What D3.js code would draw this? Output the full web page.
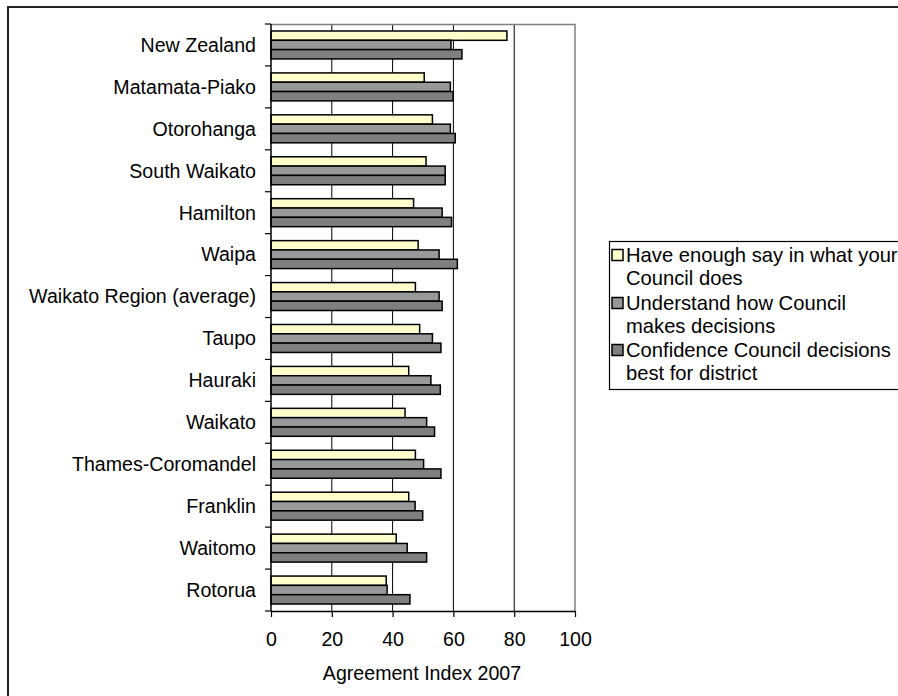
<!DOCTYPE html>
<html><head><meta charset="utf-8">
<script src="https://cdn.jsdelivr.net/npm/d3@7"></script>
<style>
html,body{margin:0;padding:0;background:#fff;overflow:hidden}
text{font-family:"Liberation Sans",Arial,sans-serif;fill:#000}
</style></head>
<body>
<svg id="c" width="898" height="696"></svg>
<script>
const categories = ["New Zealand","Matamata-Piako","Otorohanga","South Waikato","Hamilton","Waipa","Waikato Region (average)","Taupo","Hauraki","Waikato","Thames-Coromandel","Franklin","Waitomo","Rotorua"];
const haveSay    = [77.6, 50.4, 53.1, 51.0, 46.9, 48.4, 47.5, 48.9, 45.3, 44.1, 47.5, 45.3, 41.2, 37.9];
const understand = [59.2, 59.0, 59.0, 57.3, 56.3, 55.3, 55.3, 53.1, 52.6, 51.2, 50.2, 47.4, 44.8, 38.2];
const confidence = [62.8, 59.9, 60.6, 57.3, 59.4, 61.3, 56.3, 55.9, 55.7, 53.8, 55.9, 49.9, 51.2, 45.7];
const seriesNames = [["Have enough say in what your","Council does"],["Understand how Council","makes decisions"],["Confidence Council decisions","best for district"]];
const seriesColors = ["#ffffcc","#999999","#7f7f7f"];
const xTicks = [0,20,40,60,80,100];
const xTitle = "Agreement Index 2007";

const series = [haveSay, understand, confidence];
const svg = d3.select("#c");
const FS = 19.6;

// outer frame
svg.append("rect").attr("x",8).attr("y",7).attr("width",900).attr("height",700)
  .attr("fill","none").attr("stroke","#222").attr("stroke-width",2);

const L = 271, R = 575, T = 24, B = 611;
const x = d3.scaleLinear().domain([0,100]).range([L,R]);
const y = d3.scaleBand().domain(categories).range([T,B]).paddingInner(1/3).paddingOuter(1/6);
const ys = d3.scaleBand().domain([0,1,2]).range([0,y.bandwidth()]);

// gridlines
svg.append("g").selectAll("line").data(xTicks.slice(1,-1)).join("line")
  .attr("x1",d=>x(d)).attr("x2",d=>x(d)).attr("y1",T).attr("y2",B)
  .attr("stroke","#000").attr("stroke-width",1);
// plot border top/right gray
svg.append("path").attr("d",`M${L},${T+0.5}H${R}V${B}`).attr("fill","none")
  .attr("stroke","#808080").attr("stroke-width",1.5);

// bars
const g = svg.append("g");
categories.forEach((c,i)=>{
  series.forEach((s,k)=>{
    g.append("rect")
      .attr("x",x(0)).attr("y",y(c)+ys(k))
      .attr("width",x(s[i])-x(0)).attr("height",ys.bandwidth())
      .attr("fill",seriesColors[k]).attr("stroke","#000").attr("stroke-width",1.5);
  });
});

// y axis: ticks at band boundaries
const bounds = categories.map(c=>y(c)-y.step()*y.paddingInner()/2).concat([B]);
svg.append("line").attr("x1",L).attr("x2",L).attr("y1",T).attr("y2",B).attr("stroke","#000").attr("stroke-width",1.5);
svg.append("g").selectAll("line").data(bounds).join("line")
  .attr("x1",L-6).attr("x2",L).attr("y1",d=>d).attr("y2",d=>d).attr("stroke","#000").attr("stroke-width",1.2);
svg.append("g").selectAll("text").data(categories).join("text")
  .attr("x",256).attr("y",d=>y(d)+y.bandwidth()/2).attr("dy","0.35em")
  .attr("text-anchor","end").attr("font-size",FS).text(d=>d);

// x axis
const xa = svg.append("g").attr("transform",`translate(0,${B})`)
  .call(d3.axisBottom(x).tickValues(xTicks).tickSize(6).tickSizeOuter(0));
xa.select(".domain").attr("stroke","#000").attr("stroke-width",1.5);
xa.selectAll(".tick line").attr("stroke","#000").attr("stroke-width",1.2);
xa.selectAll(".tick text").attr("font-size",FS).attr("font-family","Liberation Sans, Arial, sans-serif")
  .attr("fill","#000").attr("y",0).attr("dy",null).attr("transform","translate(0,30)").attr("dominant-baseline","middle");
svg.append("text").attr("x",x(50)-1).attr("y",673).attr("dy","0.35em").attr("text-anchor","middle")
  .attr("font-size",FS).text(xTitle);

// legend
svg.append("rect").attr("x",609.5).attr("y",241.5).attr("width",300).attr("height",148)
  .attr("fill","#fff").attr("stroke","#000").attr("stroke-width",1.2);
const itemY = [255,303,350];
seriesNames.forEach((lines,k)=>{
  svg.append("rect").attr("x",612).attr("y",itemY[k]-5.5).attr("width",11).attr("height",11)
    .attr("fill",seriesColors[k]).attr("stroke","#000").attr("stroke-width",1.5);
  lines.forEach((t,j)=>{
    svg.append("text").attr("x",626).attr("y",itemY[k]+j*22.5).attr("dy","0.35em")
      .attr("font-size",20.2).text(t);
  });
});
</script>
</body></html>
